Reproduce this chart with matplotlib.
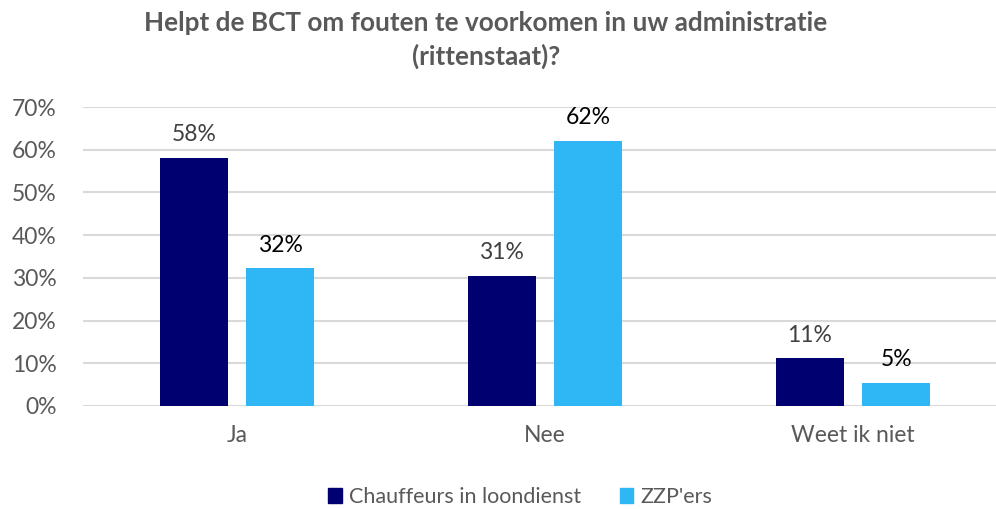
import matplotlib
matplotlib.use("Agg")
import matplotlib.pyplot as plt
import numpy as np
from matplotlib.patches import Patch

categories = ["Ja", "Nee", "Weet ik niet"]
series_names = ["Chauffeurs in loondienst", "ZZP'ers"]
chauffeurs = [58.1, 30.5, 11.2]
zzp = [32.3, 62.1, 5.4]
chauffeurs_labels = ["58%", "31%", "11%"]
zzp_labels = ["32%", "62%", "5%"]
yticks = [0, 10, 20, 30, 40, 50, 60, 70]
title = "Helpt de BCT om fouten te voorkomen in uw administratie\n(rittenstaat)?"

navy = "#000070"
light = "#2EB6F5"
grey_text = "#595959"

plt.rcParams['font.family'] = ['Lato', 'DejaVu Sans']

fig = plt.figure(figsize=(9.96, 5.09), dpi=100)
ax = fig.add_axes([83/996, 1 - 406/509, (996-83)/996, (406-107)/509])

x = np.arange(len(categories))
w = 0.22
off = 0.14
b1 = ax.bar(x - off, chauffeurs, width=w, color=navy, zorder=3)
b2 = ax.bar(x + off, zzp, width=w, color=light, zorder=3)

fs = 16.5
for rect, lab in zip(b1, chauffeurs_labels):
    ax.annotate(lab, (rect.get_x() + rect.get_width()/2, rect.get_height()),
                xytext=(0, 9), textcoords="offset points", ha="center", va="bottom",
                fontsize=fs, color="#404040")
for rect, lab in zip(b2, zzp_labels):
    ax.annotate(lab, (rect.get_x() + rect.get_width()/2, rect.get_height()),
                xytext=(0, 9), textcoords="offset points", ha="center", va="bottom",
                fontsize=fs, color="black")

ax.set_ylim(0, 70)
ax.set_xlim(-0.5, -0.5 + 913/308)
ax.set_yticks(yticks)
ax.set_yticklabels([f"{v}%" for v in yticks])
ax.set_xticks(x)
ax.set_xticklabels(categories)
ax.tick_params(axis='both', length=0, labelsize=fs, colors=grey_text)
ax.tick_params(axis='x', pad=14)
ax.tick_params(axis='y', pad=19)
ax.grid(axis='y', color="#D9D9D9", linewidth=1.5, zorder=0)
for s in ax.spines.values():
    s.set_visible(False)

fig.text(486/996, 1 - 40/509, title, ha="center", va="center", fontsize=18.8,
         fontweight="bold", color=grey_text, linespacing=1.45)

handles = [Patch(color=navy), Patch(color=light)]
fig.legend(handles, series_names, loc="center", bbox_to_anchor=(520/996, 1 - 497/509),
           ncol=2, frameon=False, fontsize=15.5, labelcolor=grey_text,
           handlelength=0.65, handleheight=0.65, columnspacing=1.8, handletextpad=0.3)

fig.savefig("out.png", dpi=100)
